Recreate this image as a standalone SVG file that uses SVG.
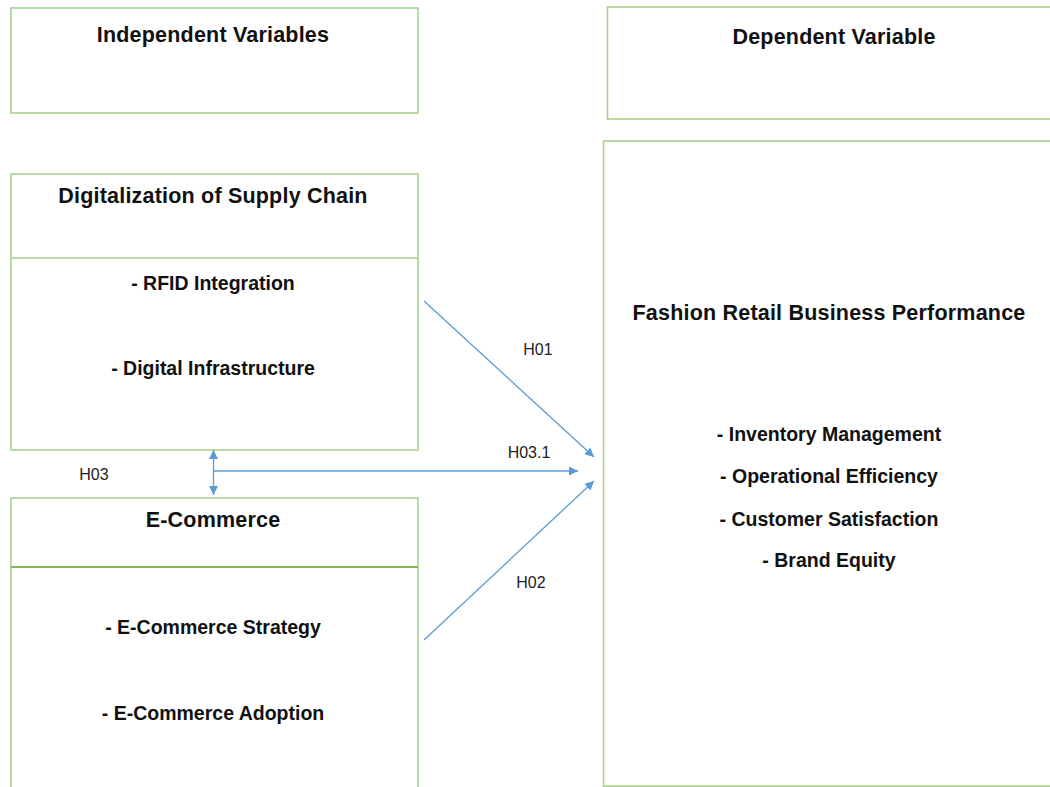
<svg xmlns="http://www.w3.org/2000/svg" width="1050" height="787" viewBox="0 0 1050 787">
  <defs>
    <style>
      .box { fill: #ffffff; stroke: #a9d18e; stroke-width: 1.6; }
      .div { stroke: #a9d18e; stroke-width: 1.6; }
      .div-strong { stroke: #7fb65a; stroke-width: 2.2; }
      .title { font-family: "Liberation Sans", Arial, sans-serif; font-weight: bold; font-size: 21.5px; letter-spacing: 0.2px; fill: #111111; text-anchor: middle; }
      .item { font-family: "Liberation Sans", Arial, sans-serif; font-weight: bold; font-size: 19.5px; fill: #111111; text-anchor: middle; }
      .lbl { font-family: "Liberation Sans", Arial, sans-serif; font-size: 16px; fill: #222222; text-anchor: middle; }
      .conn { stroke: #5b9bd5; stroke-width: 1.3; fill: none; }
    </style>
    <marker id="arrow" viewBox="0 0 10 10" refX="10" refY="5" markerWidth="10" markerHeight="9" markerUnits="userSpaceOnUse" orient="auto-start-reverse">
      <path d="M0,0 L10,5 L0,10 Z" fill="#5b9bd5"/>
    </marker>
  </defs>

  <rect width="1050" height="787" fill="#ffffff"/>

  <!-- heading boxes -->
  <g id="independent-variables">
    <rect class="box" x="11" y="8" width="407" height="105"/>
    <text class="title" x="213" y="42">Independent Variables</text>
  </g>

  <g id="dependent-variable">
    <rect class="box" x="607.5" y="7" width="460" height="112"/>
    <text class="title" x="834" y="44">Dependent Variable</text>
  </g>

  <!-- independent constructs -->
  <g id="digitalization">
    <rect class="box" x="11" y="174" width="407" height="276"/>
    <line class="div" x1="11" y1="258" x2="418" y2="258"/>
    <text class="title" x="213" y="203">Digitalization of Supply Chain</text>
    <text class="item" x="213" y="290">- RFID Integration</text>
    <text class="item" x="213" y="375">- Digital Infrastructure</text>
  </g>

  <g id="e-commerce">
    <rect class="box" x="11" y="498" width="407" height="300"/>
    <line class="div-strong" x1="11" y1="567" x2="418" y2="567"/>
    <text class="title" x="213" y="527">E-Commerce</text>
    <text class="item" x="213" y="634">- E-Commerce Strategy</text>
    <text class="item" x="213" y="720">- E-Commerce Adoption</text>
  </g>

  <!-- dependent construct -->
  <g id="business-performance">
    <rect class="box" x="603.5" y="141" width="470" height="645"/>
    <text class="title" x="829" y="320">Fashion Retail Business Performance</text>
    <text class="item" x="829" y="441">- Inventory Management</text>
    <text class="item" x="829" y="483">- Operational Efficiency</text>
    <text class="item" x="829" y="526">- Customer Satisfaction</text>
    <text class="item" x="829" y="567">- Brand Equity</text>
  </g>

  <!-- hypothesised paths -->
  <g id="connectors">
    <line class="conn" x1="424" y1="301" x2="594" y2="457" marker-end="url(#arrow)"/>
    <line class="conn" x1="424" y1="640" x2="594" y2="481" marker-end="url(#arrow)"/>
    <line class="conn" x1="213.5" y1="450" x2="213.5" y2="495" marker-start="url(#arrow)" marker-end="url(#arrow)"/>
    <line class="conn" x1="213.5" y1="471" x2="578" y2="471" marker-end="url(#arrow)"/>
    <text class="lbl" x="538" y="355">H01</text>
    <text class="lbl" x="529" y="458">H03.1</text>
    <text class="lbl" x="531" y="588">H02</text>
    <text class="lbl" x="94" y="480">H03</text>
  </g>
</svg>
